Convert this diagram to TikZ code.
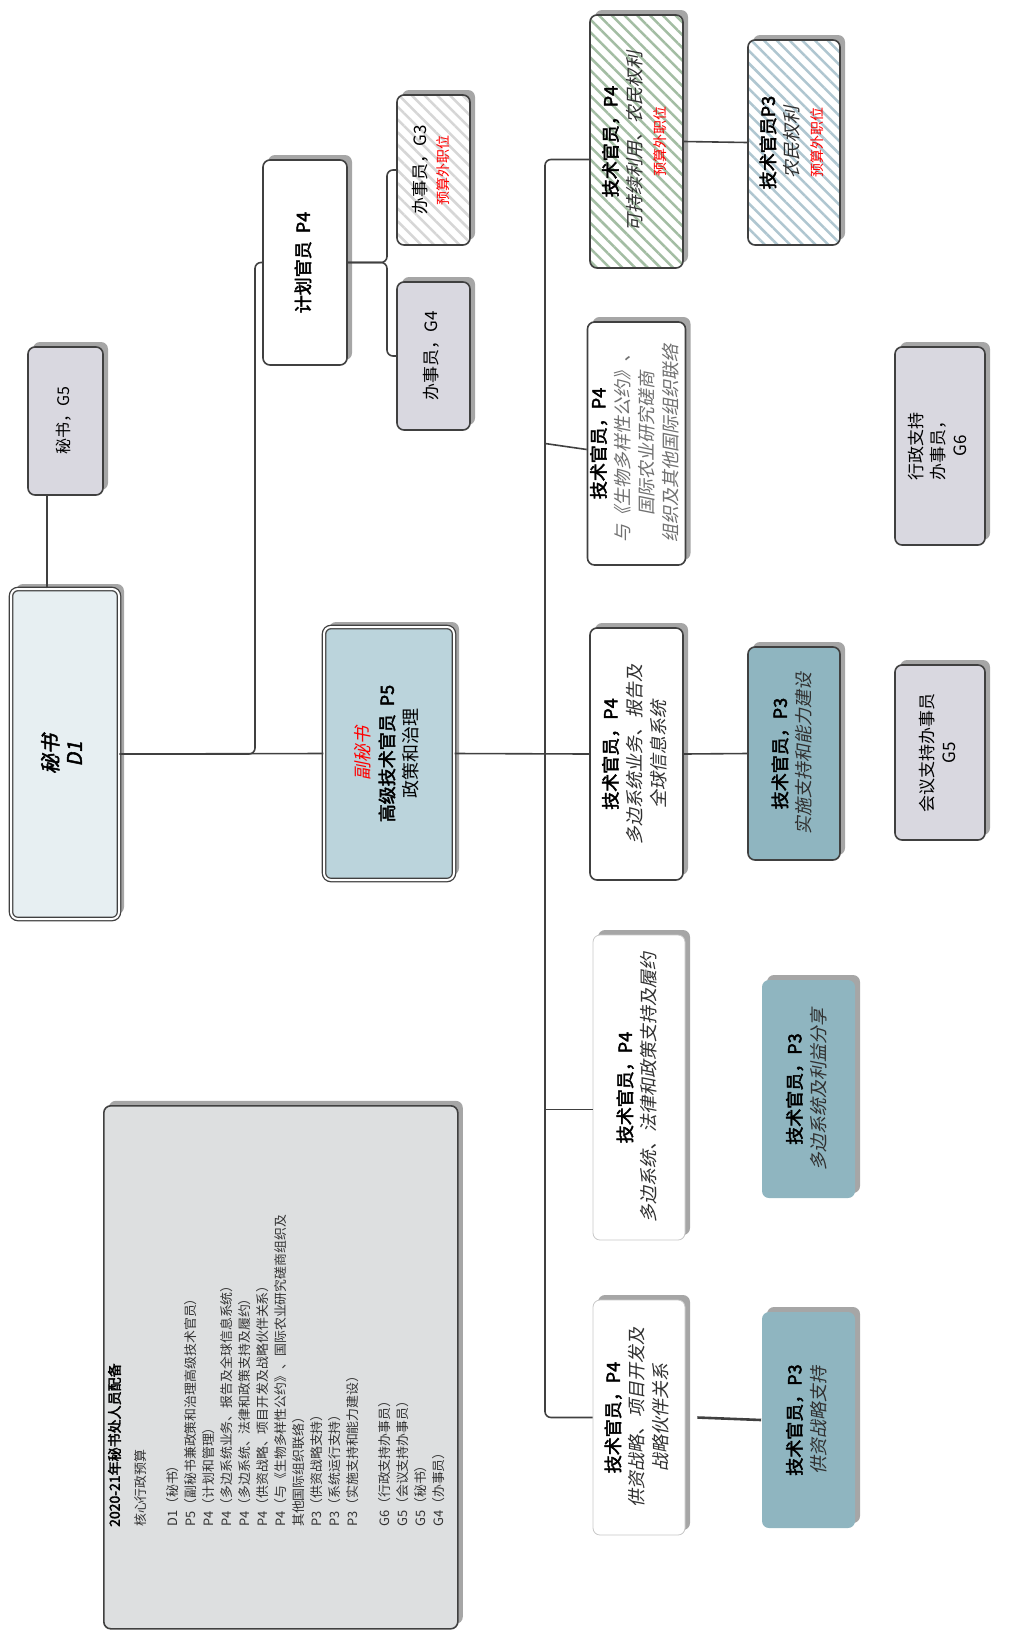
\documentclass[tikz,border=0pt]{standalone}
\usepackage{fontspec}
\setmainfont{Noto Sans CJK SC}[AutoFakeBold=2.5,AutoFakeSlant=0.2]
\usepackage{graphicx}
\usetikzlibrary{shadows,patterns.meta,calc}
\definecolor{bord}{HTML}{404040}
\definecolor{dfill}{HTML}{E7EFF2}
\definecolor{pfill}{HTML}{BBD4DC}
\definecolor{gfill}{HTML}{D9D8E0}
\definecolor{tfill}{HTML}{8FB5C0}
\definecolor{lfill}{HTML}{DDDFE0}
\definecolor{shad}{HTML}{A6A6A6}
\definecolor{hgreen}{HTML}{A3BDA3}
\definecolor{hblue}{HTML}{AFC6D0}
\definecolor{hgray}{HTML}{D6D6D6}
\definecolor{lbord}{HTML}{C8C8C8}
\definecolor{subc}{HTML}{303030}
\definecolor{subg}{HTML}{707070}
\definecolor{legc}{HTML}{333333}
\newcommand{\rt}[1]{\rotatebox{90}{\begin{tabular}{@{}c@{}}#1\end{tabular}}}
\newcommand{\sub}[1]{\textcolor{subc}{\itshape #1}}
\newcommand{\subg}[1]{\textcolor{subg}{\itshape #1}}
\newcommand{\ew}[1]{\textcolor{red}{\fontsize{14}{16}\selectfont #1}}
\begin{document}
\begin{tikzpicture}[x=1pt,y=-1pt,
  conn/.style={draw=bord, line width=1.6pt},
  box/.style={draw=bord, line width=1.6pt, rounded corners=7pt, align=center, inner sep=1pt,
     font=\fontsize{18}{24}\selectfont,
     drop shadow={shadow xshift=5pt,shadow yshift=5pt,fill=shad,opacity=1}},
  dbox/.style={box, double=white, double distance=2pt, line width=1.3pt},
  lbox/.style={box, draw=lbord, line width=0.8pt},
  nbox/.style={box, draw=none},
  hatch/.style={preaction={fill=white}, pattern={Lines[angle=-45,distance=9pt,line width=2.5pt]}, pattern color=#1},
  ]
\useasboundingbox (0,0) rectangle (1027,1631);

% legend
\node[box, fill=lfill, minimum width=354, minimum height=523, anchor=north west] (leg) at (103,1105) {};
\node[anchor=south west, inner sep=0pt, text=legc, font=\fontsize{12.9}{18}\selectfont] (legt) at (107,1527)
 {\rotatebox{90}{\begin{tabular}{@{}l@{}}
 \textcolor{black}{\fontsize{14}{18}\selectfont\bfseries 2020-21年秘书处人员配备}\\[8pt]
 核心行政预算\\[14pt]
 D1（秘书）\\
 P5（副秘书兼政策和治理高级技术官员）\\
 P4（计划和管理）\\
 P4（多边系统业务、报告及全球信息系统）\\
 P4（多边系统、法律和政策支持及履约）\\
 P4（供资战略、项目开发及战略伙伴关系）\\
 P4（与《生物多样性公约》、国际农业研究磋商组织及\\
 其他国际组织联络）\\
 P3（供资战略支持）\\
 P3（系统运行支持）\\
 P3（实施支持和能力建设）\\[14pt]
 G6（行政支持办事员）\\
 G5（会议支持办事员）\\
 G5（秘书）\\
 G4（办事员）
 \end{tabular}}};

% left part
\node[dbox, fill=dfill, minimum width=108, minimum height=330, font=\fontsize{20}{24}\selectfont\bfseries\itshape] (d1) at (65,754) {\rt{秘书\\ D1}};
\node[box, fill=gfill, minimum width=75, minimum height=148, font=\fontsize{16}{20}\selectfont] (g5) at (65.5,421) {\rt{秘书，G5}};
\node[dbox, fill=pfill, minimum width=130, minimum height=253] (dsg) at (389,753.5)
  {\rt{\textcolor{red}{\itshape 副秘书}\\ \textbf{高级技术官员\ \ P5}\\ 政策和治理}};
\node[box, fill=white, minimum width=84, minimum height=205] (plan) at (305,262.5) {\rt{\textbf{计划官员\ \ P4}}};
\node[box, hatch=hgray, minimum width=73, minimum height=150, font=\fontsize{17}{22}\selectfont] (g3) at (433.5,170) {\rt{办事员，G3\\ \ew{预算外职位}}};
\node[box, fill=gfill, minimum width=73, minimum height=148, font=\fontsize{17}{22}\selectfont] (g4) at (433.5,356) {\rt{办事员，G4}};

% P4 column
\node[box, hatch=hgreen, minimum width=93, minimum height=253] (sus) at (636.5,141.5)
  {\rt{\textbf{技术官员，P4}\\ \sub{可持续利用、农民权利}\\ \ew{预算外职位}}};
\node[box, fill=white, minimum width=93, minimum height=243] (bio) at (636.5,443.5)
  {\rt{\textbf{技术官员，P4}\\ \subg{与《生物多样性公约》、}\\ \subg{国际农业研究磋商}\\ \subg{组织及其他国际组织联络}}};
\node[box, fill=white, minimum width=93, minimum height=252] (mls) at (636.5,754)
  {\rt{\textbf{技术官员，P4}\\ \sub{多边系统业务、报告及}\\ \sub{全球信息系统}}};
\node[lbox, fill=white, minimum width=92, minimum height=305] (law) at (639,1087.5)
  {\rt{\textbf{技术官员，P4}\\ \sub{多边系统、法律和政策支持及履约}}};
\node[lbox, fill=white, minimum width=92, minimum height=235] (fund) at (639,1417.5)
  {\rt{\textbf{技术官员，P4}\\ \sub{供资战略、项目开发及}\\ \sub{战略伙伴关系}}};

% P3 column
\node[box, hatch=hblue, minimum width=92, minimum height=205] (frm) at (794,142.5)
  {\rt{\textbf{技术官员P3}\\ \sub{农民权利}\\ \ew{预算外职位}}};
\node[box, fill=tfill, minimum width=92, minimum height=213] (imp) at (794,753.5)
  {\rt{\textbf{技术官员，P3}\\ \sub{实施支持和能力建设}}};
\node[nbox, fill=tfill, minimum width=93, minimum height=218] (abs) at (808.5,1089)
  {\rt{\textbf{技术官员，P3}\\ \sub{多边系统及利益分享}}};
\node[nbox, fill=tfill, minimum width=93, minimum height=216] (fsp) at (808.5,1420)
  {\rt{\textbf{技术官员，P3}\\ \sub{供资战略支持}}};

% G column
\node[box, fill=gfill, minimum width=90, minimum height=175, font=\fontsize{17}{22}\selectfont] (mtg) at (940,752.5) {\rt{会议支持办事员\\ G5}};
\node[box, fill=gfill, minimum width=90, minimum height=198, font=\fontsize{17}{22}\selectfont] (adm) at (940,446) {\rt{行政支持\\ 办事员，\\ G6}};

% connectors
\coordinate (c1) at ([xshift=-18pt]d1.north);
\draw[conn, line width=2.2pt] (c1) -- (c1 |- g5.south);
\draw[conn] (d1.east) -- (dsg.west);
\draw[conn, rounded corners=6pt] (d1.east) -| (255,500) |- (plan.west);
\draw[conn, rounded corners=6pt] (plan.east) -| (387,240) |- (g3.west);
\draw[conn, rounded corners=6pt] (plan.east) -| (387,290) |- (g4.west);
\coordinate (bus) at (545,0);
\draw[conn] (dsg.east) -- (mls.west);
\draw[conn, rounded corners=6pt] ([yshift=-18pt]sus.west) -| (bus |- 0,700) |- (fund.west);
\draw[conn] (bus |- bio.west) -- ([yshift=-6pt]bio.west);
\draw[conn] (bus |- law.west) ++(0,22) -- ([yshift=-22pt]law.west);
\draw[conn] (sus.east) -- (frm.west);
\draw[conn] (mls.east) -- (imp.west);
\draw[conn, line width=2.6pt] ([xshift=12pt]fund.east) -- (fsp.west);
\end{tikzpicture}
\end{document}
